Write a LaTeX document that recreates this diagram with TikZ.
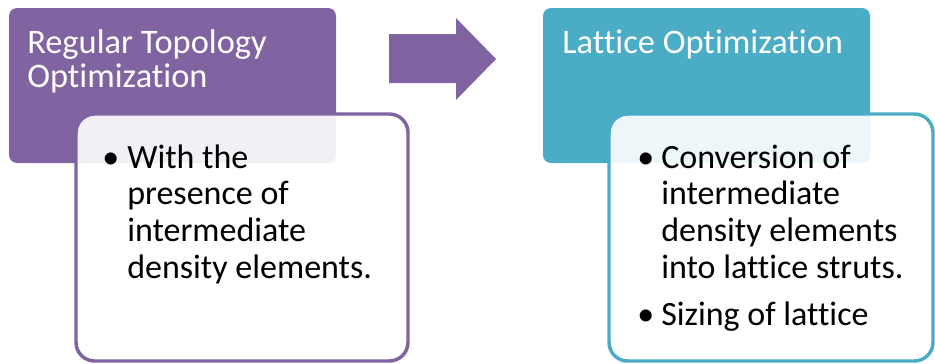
\documentclass[tikz,border=0pt]{standalone}
\usepackage{fontspec}
\setmainfont{Carlito}[Ligatures=NoCommon]
\definecolor{purp}{HTML}{8064A2}
\definecolor{teal}{HTML}{4BACC6}
\newcommand{\mylines}[1]{\begin{tabular}[t]{@{}l@{}}#1\end{tabular}}
\begin{document}
\begin{tikzpicture}[x=0.75pt,y=-0.75pt,
  hdr/.style={fill=#1,rounded corners=6pt},
  card/.style={draw=#1,line width=2.6pt,fill=white,fill opacity=0.9,draw opacity=1,rounded corners=14pt},
  ttl/.style={text=white,font=\fontsize{25.8}{25.5}\selectfont,anchor=base west,inner sep=0pt},
  bdy/.style={text=black,font=\fontsize{25.5}{27.7}\selectfont,anchor=base west,inner sep=0pt}]
\useasboundingbox (0,0) rectangle (935,364);
% left
\path[hdr=purp] (9,8) rectangle (336,163);
\node[ttl] (t1) at (27,53) {\mylines{Regular Topology\\Optimization}};
\path[card=purp] (76,114) rectangle (408,361);
\node[bdy] (b1) at (102,168) {\textbullet};
\node[bdy] (l1) at (127,168) {\mylines{With the\\presence of\\intermediate\\density elements.}};
% arrow
\fill[purp] (389,34) -- (456,34) -- (456,18) -- (496,59) -- (456,100) -- (456,83) -- (389,83) -- cycle;
% right
\path[hdr=teal] (543,8) rectangle (870,163);
\node[ttl] (t2) at (562,53) {Lattice Optimization};
\path[card=teal] (609,114) rectangle (933,361);
\node[bdy] (b2) at (637,168) {\textbullet};
\node[bdy] (l2) at (661,168) {\mylines{Conversion of\\intermediate\\density elements\\into lattice struts.}};
\node[bdy] (b3) at (637,325) {\textbullet};
\node[bdy] (l3) at (661,325) {Sizing of lattice};
\end{tikzpicture}
\end{document}
